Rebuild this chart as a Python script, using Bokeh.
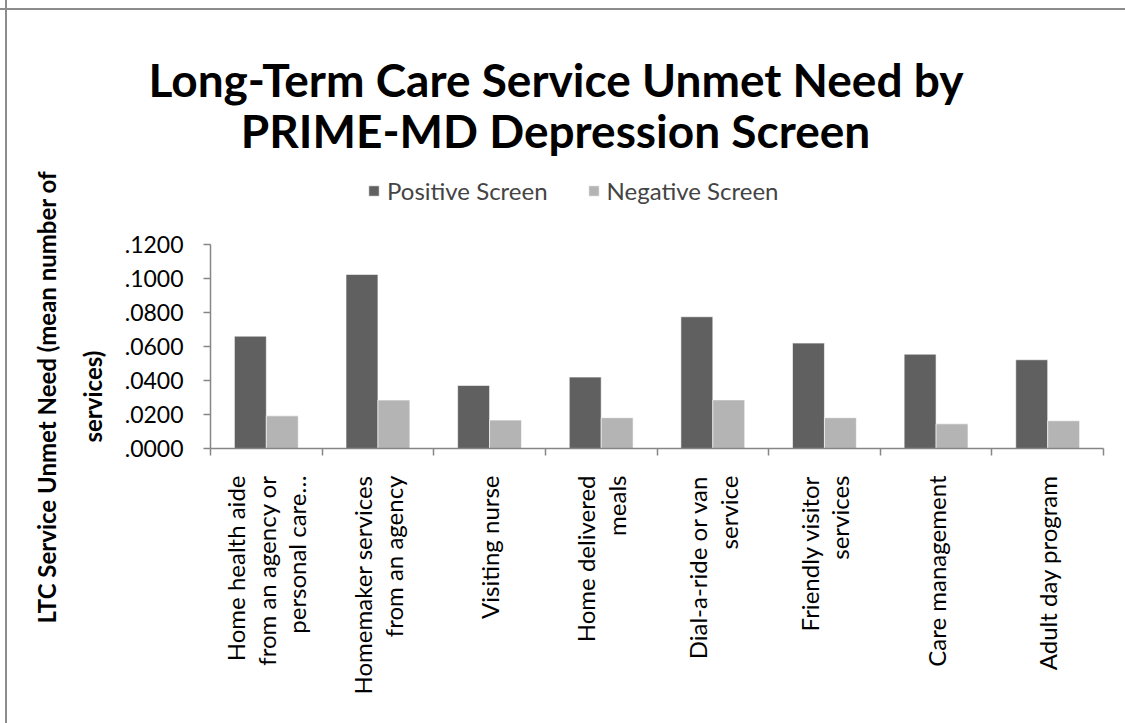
from math import pi
from bokeh.plotting import figure
from bokeh.models import (Range1d, LinearAxis, FixedTicker, Legend, LegendItem, Title, Label,
                          ColumnDataSource)
from bokeh.transform import dodge
from bokeh.embed import file_html
from bokeh.resources import INLINE

categories = [
    "Home health aide\nfrom an agency or\npersonal care\u2026",
    "Homemaker services\nfrom an agency",
    "Visiting nurse",
    "Home delivered\nmeals",
    "Dial-a-ride or van\nservice",
    "Friendly visitor\nservices",
    "Care management",
    "Adult day program",
]
positive = [0.0661, 0.1024, 0.0371, 0.0420, 0.0775, 0.0620, 0.0555, 0.0522]
negative = [0.0192, 0.0285, 0.0167, 0.0181, 0.0286, 0.0181, 0.0145, 0.0163]
series_names = ["Positive Screen", "Negative Screen"]
y_ticks = [0.0, 0.02, 0.04, 0.06, 0.08, 0.10, 0.12]
y_tick_labels = [".0000", ".0200", ".0400", ".0600", ".0800", ".1000", ".1200"]
title_lines = ["Long-Term Care Service Unmet Need by", "PRIME-MD Depression Screen"]
y_title_lines = ["LTC Service Unmet Need (mean number of", "services)"]

FONT = "Lato"
AXIS_COLOR = "#868686"
DARK = "#606060"
LIGHT = "#b4b4b4"
BORDER_LEFT = "linear-gradient(90deg, transparent 5px, #8c8c8c 5px, #8c8c8c 7px, transparent 7px)"
BORDER_TOP = "linear-gradient(180deg, transparent 8px, #8c8c8c 8px, #8c8c8c 10px, transparent 10px)"

n = len(categories)
centers = [i + 0.5 for i in range(n)]

W, H = 1125, 723
FRAME_TOP, FRAME_BOTTOM = 106, 448     # page rows of the plotting frame
FRAME_LEFT, FRAME_RIGHT = 210, 1103
AXIS_H = 204                           # pixel height of the 0 .. .12 axis
FRAME_H = FRAME_BOTTOM - FRAME_TOP

p = figure(width=W, height=H,
           x_range=Range1d(0, n), y_range=Range1d(0, y_ticks[-1] * FRAME_H / AXIS_H),
           output_backend="svg", toolbar_location=None, title=None,
           x_axis_location=None, y_axis_location=None,
           min_border_left=FRAME_LEFT, min_border_right=W - FRAME_RIGHT,
           min_border_top=FRAME_TOP, min_border_bottom=H - FRAME_BOTTOM)
p.xgrid.visible = False
p.ygrid.visible = False
p.outline_line_color = None
p.background_fill_color = None
p.border_fill_color = None
p.styles = {"background": BORDER_LEFT + ", " + BORDER_TOP}

# y axis
yaxis = LinearAxis(ticker=FixedTicker(ticks=y_ticks), bounds=(y_ticks[0], y_ticks[-1]),
                   major_label_overrides=dict(zip(y_ticks, y_tick_labels)),
                   axis_line_color=AXIS_COLOR, axis_line_width=1.5,
                   major_tick_line_color=AXIS_COLOR, major_tick_line_width=1.5,
                   major_tick_in=0, major_tick_out=7, minor_tick_out=0, minor_tick_in=0,
                   major_label_standoff=20,
                   major_label_text_font=FONT, major_label_text_font_size="23px",
                   major_label_text_color="black")
p.add_layout(yaxis, "left")

# y axis title: two lines, "services)" closest to the axis
p.add_layout(Title(text=y_title_lines[1], align="left", offset=6, standoff=30,
                   text_font=FONT, text_font_style="bold", text_font_size="24px",
                   text_color="black"), "left")
p.add_layout(Title(text=y_title_lines[0], align="left", offset=-175, standoff=0,
                   text_font=FONT, text_font_style="bold", text_font_size="24px",
                   text_color="black"), "left")

# x axis: boundary ticks between categories
bounds_ticks = list(range(n + 1))
tick_axis = LinearAxis(ticker=FixedTicker(ticks=bounds_ticks),
                       major_label_overrides={t: "" for t in bounds_ticks},
                       axis_line_color=AXIS_COLOR, axis_line_width=1.5,
                       major_tick_line_color=AXIS_COLOR, major_tick_line_width=1.5,
                       major_tick_in=0, major_tick_out=7, minor_tick_out=0, minor_tick_in=0,
                       major_label_text_font_size="0px", major_label_standoff=0)
p.add_layout(tick_axis, "below")

# x axis: category labels at the category centres
cat_axis = LinearAxis(ticker=FixedTicker(ticks=centers),
                      major_label_overrides=dict(zip(centers, categories)),
                      axis_line_color=None, major_tick_line_color=None,
                      major_tick_in=0, major_tick_out=0, minor_tick_in=0, minor_tick_out=0,
                      major_label_orientation=pi / 2, major_label_standoff=20,
                      major_label_text_font=FONT, major_label_text_font_size="24px",
                      major_label_text_line_height=1.05,
                      major_label_text_color="black")
p.add_layout(cat_axis, "below")

src = ColumnDataSource(dict(x=centers, positive=positive, negative=negative))
r1 = p.vbar(x=dodge("x", -0.143), top="positive", width=0.286,
            source=src, fill_color=DARK, line_color="white", line_width=0.6)
r2 = p.vbar(x=dodge("x", 0.143), top="negative", width=0.286,
            source=src, fill_color=LIGHT, line_color="white", line_width=0.6)

legend = Legend(items=[LegendItem(label=series_names[0], renderers=[r1]),
                       LegendItem(label=series_names[1], renderers=[r2])],
                orientation="horizontal", location=(157, 243),
                padding=0, margin=0, border_line_color=None, background_fill_alpha=0,
                glyph_width=13, glyph_height=13, label_standoff=7, spacing=39,
                label_text_font=FONT, label_text_font_size="24px")
p.add_layout(legend)

# chart title: first line in the panel above the frame, second line inside the frame
p.add_layout(Title(text=title_lines[0], align="left", offset=-62, standoff=0,
                   text_font=FONT, text_font_style="bold", text_font_size="46px",
                   text_color="black"), "above")
p.add_layout(Label(x=555 - FRAME_LEFT, y=FRAME_BOTTOM - 130, x_units="screen", y_units="screen",
                   text=title_lines[1], text_align="center", text_baseline="middle",
                   text_font=FONT, text_font_style="bold", text_font_size="46px",
                   text_color="black"))

open("out.html", "w").write(file_html(p, INLINE))
